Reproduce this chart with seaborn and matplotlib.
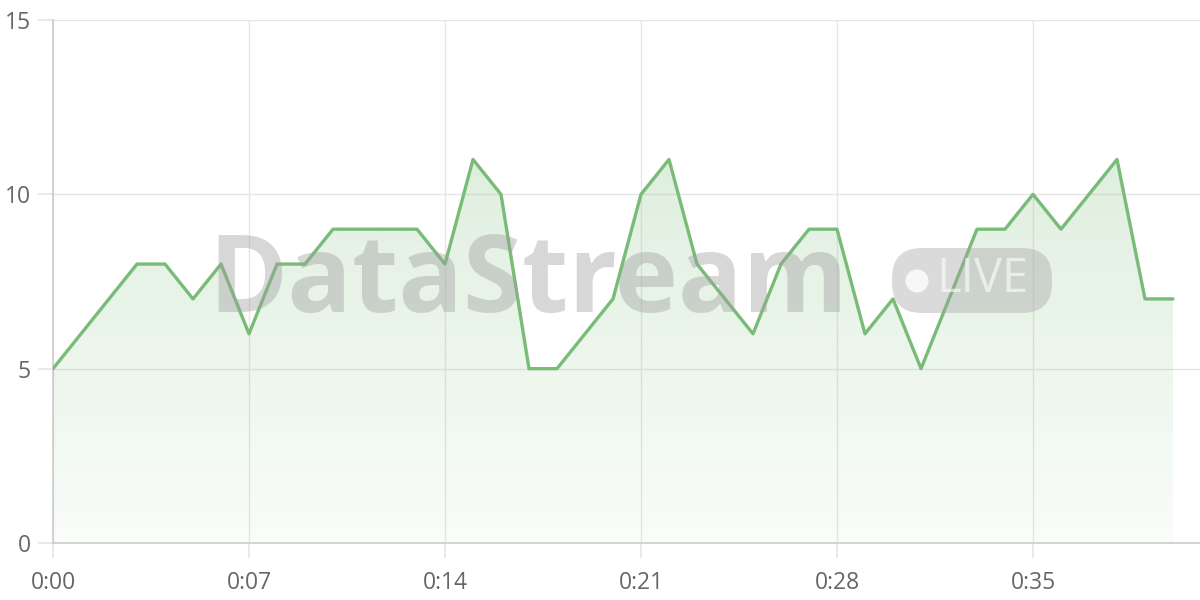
import numpy as np
import pandas as pd
import matplotlib
matplotlib.use("Agg")
import matplotlib.pyplot as plt
import seaborn as sns
from matplotlib.patches import FancyBboxPatch, Ellipse

seconds = list(range(41))
values = [5, 6, 7, 8, 8, 7, 8, 6, 8, 8, 9, 9, 9, 9, 8, 11, 10, 5, 5, 6, 7,
          10, 11, 8, 7, 6, 8, 9, 9, 6, 7, 5, 7, 9, 9, 10, 9, 10, 11, 7, 7]
tick_pos = [0, 7, 14, 21, 28, 35]
tick_labels = ["0:00", "0:07", "0:14", "0:21", "0:28", "0:35"]
y_ticks = [0, 5, 10, 15]
watermark = "DataStream"
badge = "LIVE"

sns.set_theme(style="white")
plt.rcParams['font.family'] = ['Open Sans', 'DejaVu Sans']

df = pd.DataFrame({"t": seconds, "v": values})
line_color = "#78bc78"

fig = plt.figure(figsize=(12, 6), dpi=100)
ax = fig.add_axes([53/1200, 1-543/600, 1-53/1200, (543-20)/600])

# gradient fill clipped to area under line
poly = ax.fill_between(df["t"], df["v"], 0, color="none", lw=0)
grad = np.linspace(0.04, 0.24, 256).reshape(-1, 1)
cmap_colors = np.zeros((256, 1, 4))
cmap_colors[..., 0] = 0x78/255
cmap_colors[..., 1] = 0xbc/255
cmap_colors[..., 2] = 0x78/255
cmap_colors[..., 3] = grad
img = ax.imshow(cmap_colors, extent=[0, 40, 0, 11], origin="lower",
                aspect="auto", zorder=1)
img.set_clip_path(poly.get_paths()[0], transform=ax.transData)

sns.lineplot(data=df, x="t", y="v", ax=ax, color=line_color, lw=2.4,
             zorder=4)

# watermark
fig.text(208/1200, 1-312/600, watermark, fontsize=77, fontweight="bold",
         family=["Open Sans", "DejaVu Sans"], color="#a0a0a0", alpha=0.42,
         va="baseline", ha="left", zorder=3)
bx0, by0, bw, bh = 892/1200, 1-313/600, 160/1200, 65/600
fig.patches.append(FancyBboxPatch((bx0, by0), bw, bh,
                                  boxstyle="round,pad=0,rounding_size=0.025",
                                  transform=fig.transFigure, fc="#a0a0a0",
                                  ec="none", alpha=0.38, zorder=3,
                                  mutation_aspect=2))
fig.patches.append(Ellipse((917/1200, 1-281/600), 23/1200, 23/600,
                           transform=fig.transFigure, fc="white", ec="none",
                           alpha=0.8, zorder=3.1))
fig.text(936/1200, 1-279/600, badge, fontsize=34, color="white", alpha=0.6,
         ha="left", va="center", zorder=3.1)

ax.set_xlim(0, 1147/28)
ax.set_ylim(0, 15)
ax.set_xticks(tick_pos)
ax.set_xticklabels(tick_labels)
ax.set_yticks(y_ticks)
ax.set_xlabel("")
ax.set_ylabel("")
ax.grid(True, color="#e6e6e6", lw=1)
ax.set_axisbelow(True)
for s in ["top", "right"]:
    ax.spines[s].set_visible(False)
for s in ["left", "bottom"]:
    ax.spines[s].set_color("#cccccc")
    ax.spines[s].set_linewidth(1.2)
ax.tick_params(axis="both", length=11, color="#e6e6e6", labelsize=16.5,
               labelcolor="#666666", left=True, bottom=True)
ax.tick_params(axis="x", pad=9)
ax.tick_params(axis="y", pad=5)

fig.savefig("out.png", dpi=100)
